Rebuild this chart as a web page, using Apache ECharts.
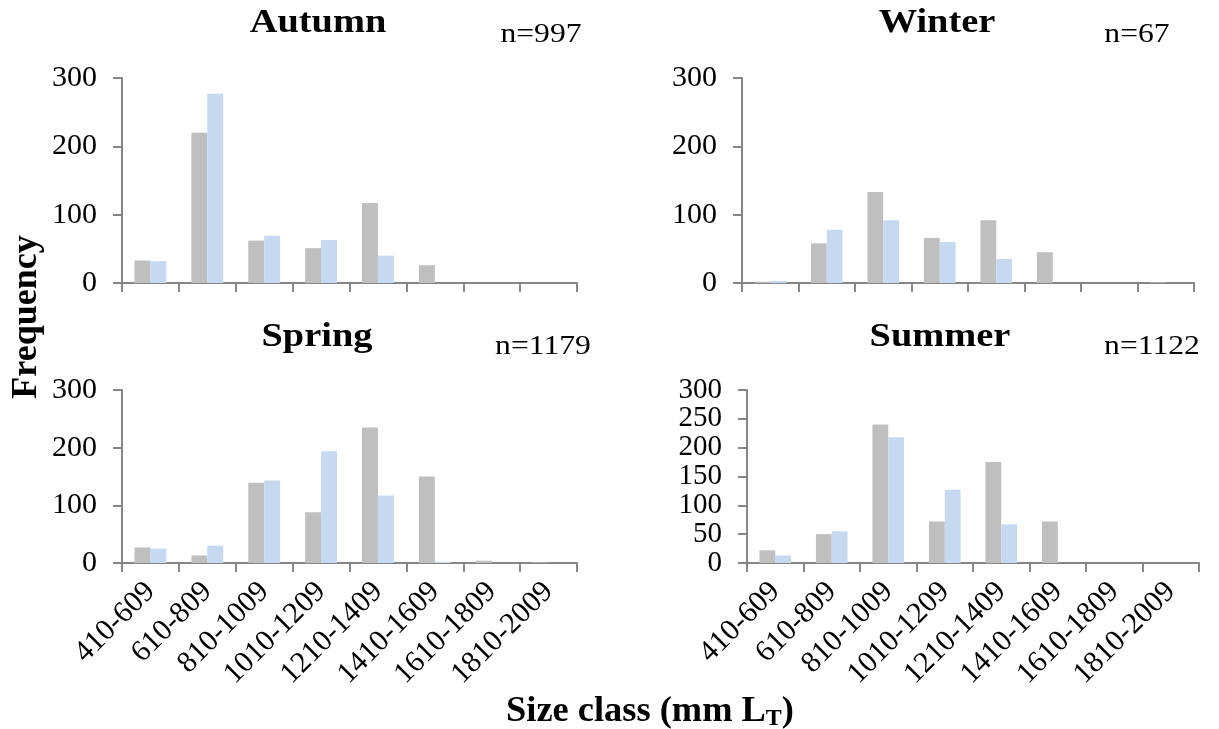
<!DOCTYPE html>
<html>
<head>
<meta charset="utf-8">
<script src="https://cdn.jsdelivr.net/npm/echarts@6/dist/echarts.min.js"></script>
<style>
html,body{margin:0;padding:0;background:#fff;}
#chart{width:1219px;height:729px;}
</style>
</head>
<body>
<div id="chart"></div>
<script>
var categories = ['410-609','610-809','810-1009','1010-1209','1210-1409','1410-1609','1610-1809','1810-2009'];
var autumnGrey = [33, 220, 62, 51, 117, 26, 0, 0];
var autumnBlue = [32, 277, 69, 63, 40, 0, 0, 0];
var winterGrey = [2, 58, 133, 66, 92, 45, 0, 1];
var winterBlue = [3, 78, 92, 60, 35, 0, 0, 0];
var springGrey = [27, 13, 139, 88, 235, 150, 4, 1];
var springBlue = [25, 30, 143, 194, 117, 2, 0, 0];
var summerGrey = [22, 50, 240, 72, 175, 72, 0, 0];
var summerBlue = [13, 55, 218, 127, 67, 0, 0, 0];
var panelTitles = ['Autumn', 'Winter', 'Spring', 'Summer'];
var panelN = ['n=997', 'n=67', 'n=1179', 'n=1122'];
var yMax = [300, 300, 300, 300];
var yStep = [100, 100, 100, 50];

var FONT = 'Liberation Serif';
var AXIS = '#868686';
var GREY = '#BFBFBF';
var BLUE = '#C6D9F1';

var grids = [
  {left: 122, top: 78, width: 455, height: 205},
  {left: 742, top: 78, width: 452, height: 205},
  {left: 122, top: 390, width: 455, height: 173},
  {left: 747, top: 390, width: 452, height: 173}
];
var greys = [autumnGrey, winterGrey, springGrey, summerGrey];
var blues = [autumnBlue, winterBlue, springBlue, summerBlue];

var xAxes = [], yAxes = [], series = [];
for (var i = 0; i < 4; i++) {
  var bottomRow = i >= 2;
  xAxes.push({
    type: 'category', gridIndex: i, data: categories, boundaryGap: true,
    axisLine: {lineStyle: {color: AXIS, width: 2}},
    axisTick: {show: true, length: 9, lineStyle: {color: AXIS, width: 2}},
    axisLabel: {show: bottomRow, rotate: 45, interval: 0, margin: 24, fontFamily: FONT, fontSize: 30, color: '#000'},
    splitLine: {show: false}
  });
  yAxes.push({
    type: 'value', gridIndex: i, min: 0, max: yMax[i], interval: yStep[i],
    axisLine: {show: true, lineStyle: {color: AXIS, width: 2}},
    axisTick: {show: true, length: 9, lineStyle: {color: AXIS, width: 2}},
    axisLabel: {margin: 25, fontFamily: FONT, fontSize: (i === 3 ? 29 : 30), color: '#000',
      showMinLabel: true, showMaxLabel: true, hideOverlap: false},
    splitLine: {show: false}
  });
  series.push({
    type: 'bar', name: 'Series 1', xAxisIndex: i, yAxisIndex: i, data: greys[i],
    barWidth: '28%', barGap: '0%', itemStyle: {color: GREY}, silent: true
  });
  series.push({
    type: 'bar', name: 'Series 2', xAxisIndex: i, yAxisIndex: i, data: blues[i],
    barWidth: '28%', barGap: '0%', itemStyle: {color: BLUE}, silent: true
  });
}

var titlePos = [[318, 23], [937, 23], [317, 337], [940, 337]];
var nPos = [[541, 35], [1137, 35], [543, 347], [1152, 347]];
var SX = 1.13;
var graphics = [];
for (var j = 0; j < 4; j++) {
  graphics.push({type: 'text', x: titlePos[j][0], y: titlePos[j][1], scaleX: SX,
    style: {text: panelTitles[j], fontFamily: FONT, fontSize: 34, fontWeight: 'bold', fill: '#000', textAlign: 'center', textVerticalAlign: 'middle'}});
  graphics.push({type: 'text', x: nPos[j][0], y: nPos[j][1], scaleX: SX,
    style: {text: panelN[j], fontFamily: FONT, fontSize: 28, fill: '#000', textAlign: 'center', textVerticalAlign: 'middle'}});
}
graphics.push({type: 'text', x: 27, y: 317, rotation: Math.PI / 2,
  style: {text: 'Frequency', fontFamily: FONT, fontSize: 36, fontWeight: 'bold', fill: '#000', textAlign: 'center', textVerticalAlign: 'middle'}});
graphics.push({type: 'text', x: 650, y: 712, scaleX: 1.04,
  style: {text: '{a|Size class (mm L}{s|T}{a|)}', textAlign: 'center', textVerticalAlign: 'middle',
    rich: {
      a: {fontFamily: FONT, fontSize: 35, fontWeight: 'bold', fill: '#000', color: '#000'},
      s: {fontFamily: FONT, fontSize: 23, fontWeight: 'bold', fill: '#000', color: '#000', padding: [14, 0, 0, 0]}
    }}});

var chart = echarts.init(document.getElementById('chart'), null, {renderer: 'canvas'});
chart.setOption({
  animation: false,
  backgroundColor: '#fff',
  grid: grids,
  xAxis: xAxes,
  yAxis: yAxes,
  series: series,
  graphic: graphics
});
</script>
</body>
</html>
